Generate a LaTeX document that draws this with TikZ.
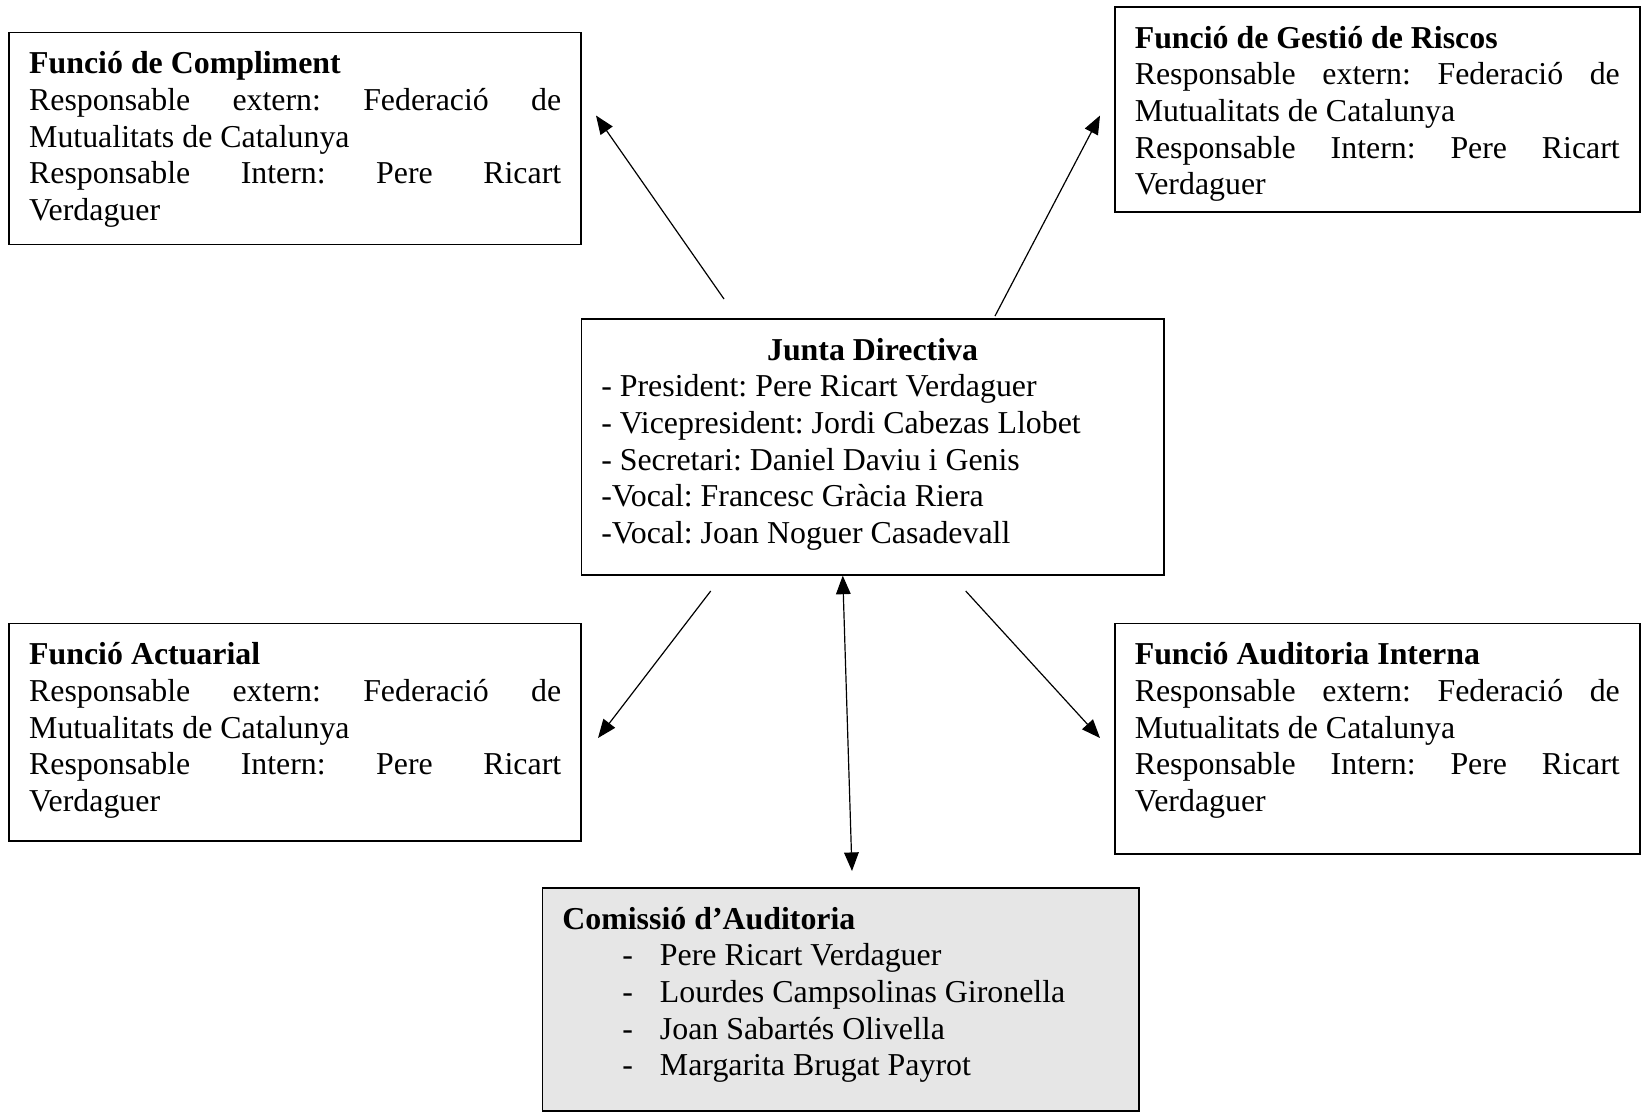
\documentclass[tikz,border=0pt]{standalone}
\usepackage{fontspec}
\setmainfont{Liberation Serif}
\usetikzlibrary{arrows.meta}
\newlength\pxu \setlength\pxu{0.3766pt}
\newcommand\fs{\fontsize{12pt}{13.8pt}\selectfont\frenchspacing}
\newcommand\panelbody[3]{\parbox[c][#2\pxu][t]{\dimexpr#1\pxu-40\pxu\relax}{\fs\parskip=0pt\relax\rule{0pt}{41.5\pxu}#3}}
\newcommand\jline[1]{\makebox[\linewidth][s]{#1}}
\newcommand\funcbody[1]{\textbf{#1}\par
  \jline{Responsable extern: Federació de}\par
  Mutualitats de Catalunya\par
  \jline{Responsable Intern: Pere Ricart}\par
  Verdaguer}
\newcommand\litem[1]{\makebox[97.6\pxu][l]{\hspace*{60\pxu}-}#1\par}
\definecolor{panelgray}{HTML}{E6E6E6}
\tikzset{
  panel/.style={draw, line width=0.6pt, rectangle, inner xsep=20\pxu, inner ysep=0pt, anchor=north west},
  conn/.style={-{Triangle[length=7pt,width=5.5pt]}, line width=0.45pt},
  dconn/.style={{Triangle[length=7pt,width=5.5pt]}-{Triangle[length=7pt,width=5.5pt]}, line width=0.45pt}
}
\begin{document}
\begin{tikzpicture}[x=0.3766pt,y=-0.3766pt]
\useasboundingbox (0,0) rectangle (1646,1112);
\fill[white] (0,0) rectangle (1646,1112);
% boxes
\node[panel] (comp) at (8.4,31.5) {\panelbody{572}{212}{\funcbody{Funció de Compliment}}};
\node[panel] (risc) at (1114,6) {\panelbody{525}{205}{\funcbody{Funció de Gestió de Riscos}}};
\node[panel] (jd) at (580.5,318) {\panelbody{582.5}{256}{\makebox[\linewidth]{\textbf{Junta Directiva}}\par
  - President: Pere Ricart Verdaguer\par
  - Vicepresident: Jordi Cabezas Llobet\par
  - Secretari: Daniel Daviu i Genis\par
  -Vocal: Francesc Gràcia Riera\par
  -Vocal: Joan Noguer Casadevall}};
\node[panel] (act) at (8.4,622.5) {\panelbody{572}{217.5}{\funcbody{Funció Actuarial}}};
\node[panel] (aud) at (1114,622.5) {\panelbody{525}{230.5}{\funcbody{Funció Auditoria Interna}}};
\node[panel, fill=panelgray] (com) at (541.6,887) {\panelbody{596.4}{223}{\textbf{Comissió d’Auditoria}\par
  \litem{Pere Ricart Verdaguer}
  \litem{Lourdes Campsolinas Gironella}
  \litem{Joan Sabartés Olivella}
  \litem{Margarita Brugat Payrot}}};
% arrow ends
\coordinate (a1s) at (724,299);   \coordinate (a1e) at (596,115.5);
\coordinate (a2s) at (995,316);   \coordinate (a2e) at (1100,115.5);
\coordinate (a3s) at (710.7,591); \coordinate (a3e) at (598,738);
\coordinate (a4s) at (965.7,591); \coordinate (a4e) at (1100,738);
\coordinate (a5e) at (852,871);
\draw[conn] (a1s) -- (a1e);
\draw[conn] (a2s) -- (a2e);
\draw[conn] (a3s) -- (a3e);
\draw[conn] (a4s) -- (a4e);
\draw[dconn] ([xshift=-29.8\pxu]jd.south) -- (a5e);
\end{tikzpicture}
\end{document}
